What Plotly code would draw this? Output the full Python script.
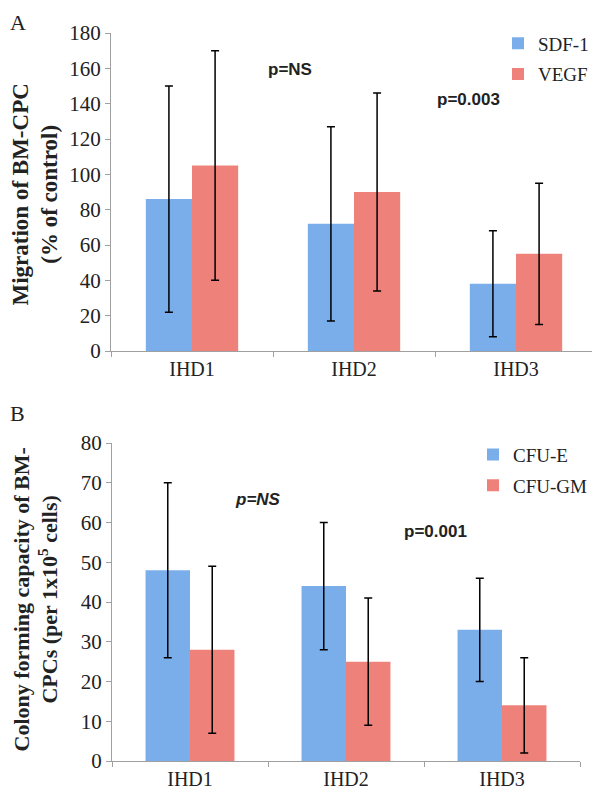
import plotly.graph_objects as go

# data
groups = ['IHD1', 'IHD2', 'IHD3']

sdf1 = [86, 72, 38]
sdf1_err = [64, 55, 30]
vegf = [105, 90, 55]
vegf_err = [65, 56, 40]

cfu_e = [48, 44, 33]
cfu_e_err = [22, 16, 13]
cfu_gm = [28, 25, 14]
cfu_gm_err = [21, 16, 12]

blue = '#7aaeeb'
red = '#ee827a'
serif = 'Liberation Serif'

W, H = 600, 795
OFF = 8  # the page body has an 8px margin, so shift everything back by that


def px(x):
    return (x - OFF) / W


def py(y):
    return 1 - (y - OFF) / H


fig = go.Figure()

def err(vals):
    return dict(type='data', array=vals, color='black', thickness=1.5, width=4)

# panel A
fig.add_trace(go.Bar(x=groups, y=sdf1, name='SDF-1', marker_color=blue, error_y=err(sdf1_err),
                     marker_line_width=0, xaxis='x', yaxis='y', legend='legend', legendgroup='a1'))
fig.add_trace(go.Bar(x=groups, y=vegf, name='VEGF', marker_color=red, error_y=err(vegf_err),
                     marker_line_width=0, xaxis='x', yaxis='y', legend='legend', legendgroup='a2'))
# panel B
fig.add_trace(go.Bar(x=groups, y=cfu_e, name='CFU-E', marker_color=blue, error_y=err(cfu_e_err),
                     marker_line_width=0, xaxis='x2', yaxis='y2', legend='legend2', legendgroup='b1'))
fig.add_trace(go.Bar(x=groups, y=cfu_gm, name='CFU-GM', marker_color=red, error_y=err(cfu_gm_err),
                     marker_line_width=0, xaxis='x2', yaxis='y2', legend='legend2', legendgroup='b2'))

xax = dict(showline=True, linecolor='#a0a0a0', linewidth=1, ticks='outside', tickson='boundaries',
           ticklen=5, tickcolor='#a0a0a0', showgrid=False, automargin=False,
           tickfont=dict(family=serif, size=20, color='#222'))
yax = dict(showline=True, linecolor='#a0a0a0', linewidth=1, ticks='outside', ticklen=5,
           tickcolor='#a0a0a0', showgrid=False, zeroline=False, automargin=False,
           tickfont=dict(family=serif, size=21, color='#222'))

leg = dict(font=dict(family=serif, size=19, color='#222'), bgcolor='rgba(0,0,0,0)',
           tracegroupgap=3, itemwidth=30, xanchor='left', yanchor='top')

fig.update_layout(
    width=W, height=H, margin=dict(l=0, r=0, t=0, b=0, autoexpand=False),
    paper_bgcolor='white', plot_bgcolor='white',
    barmode='group', bargap=0.43, bargroupgap=0,
    xaxis=dict(xax, domain=[px(111), px(597)], anchor='y'),
    yaxis=dict(yax, domain=[py(351), py(33)], range=[0, 180], dtick=20, anchor='x'),
    xaxis2=dict(xax, domain=[px(112), px(580)], anchor='y2'),
    yaxis2=dict(yax, domain=[py(761), py(443)], range=[0, 80], dtick=10, anchor='x2'),
    legend=dict(leg, x=px(498), y=py(24.5)),
    legend2=dict(leg, x=px(473), y=py(435.7)),
    showlegend=True,
)

bold = dict(family='Liberation Sans', size=17, color='#222')
ttl = dict(family=serif, size=23, color='#222')
notes = [
    dict(text='A', x=0.0, y=1.0, xanchor='left', yanchor='top',
         font=dict(family=serif, size=22, color='#222')),
    dict(text='B', x=0.0, y=py(413), xanchor='left', font=dict(family=serif, size=22, color='#222')),
    dict(text='<b>p=NS</b>', x=px(290), y=py(70), font=bold),
    dict(text='<b>p=0.003</b>', x=px(468), y=py(100), font=bold),
    dict(text='<b><i>p=NS</i></b>', x=px(258), y=py(499), font=bold),
    dict(text='<b>p=0.001</b>', x=px(435), y=py(531), font=bold),
    dict(text='<b>Migration of BM-CPC<br>(% of control)</b>', x=px(35.5), y=py(195),
         textangle=-90, font=ttl),
    dict(text='<b>Colony forming capacity of BM-<br>CPCs (per 1x10<sup>5</sup> cells)</b>',
         x=px(35.5), y=py(600), textangle=-90, font=dict(ttl, size=22)),
]
for n in notes:
    n.setdefault('xanchor', 'center')
    n.setdefault('yanchor', 'middle')
    fig.add_annotation(xref='paper', yref='paper', showarrow=False, **n)

fig.write_html('out.html')
